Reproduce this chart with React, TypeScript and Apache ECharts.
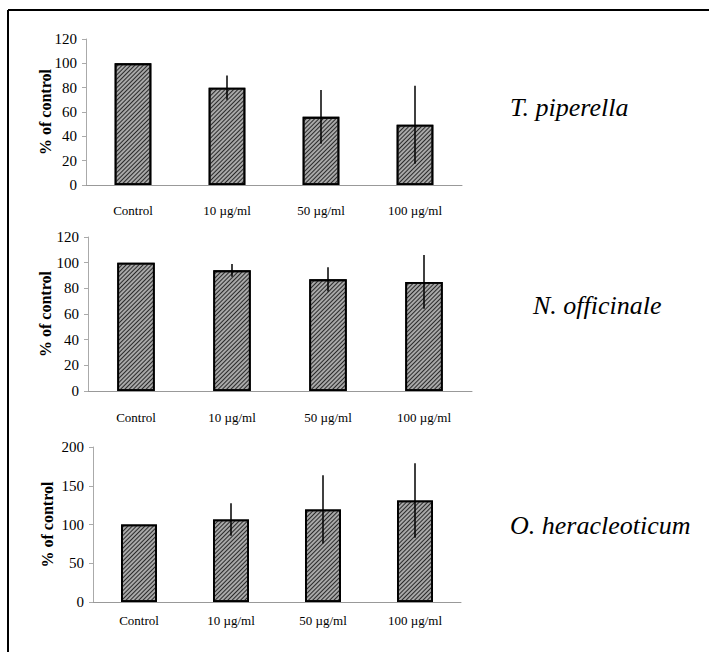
import React, { useEffect, useRef } from "react";
import * as echarts from "echarts";

const categories = ["Control", "10 µg/ml", "50 µg/ml", "100 µg/ml"];
const speciesNames = ["T. piperella", "N. officinale", "O. heracleoticum"];
const piperellaMeans = [100, 80, 56, 49.5];
const piperellaErr = [0, 10, 22, 32];
const officinaleMeans = [100, 94, 87, 85];
const officinaleErr = [0, 5, 9.5, 21];
const heracleoticumMeans = [100, 106.5, 119.5, 131];
const heracleoticumErr = [0, 21, 44, 48];
const yMaxes = [120, 120, 200];
const yIntervals = [20, 20, 50];

const FONT = "Liberation Serif, Times New Roman, DejaVu Serif, serif";

export default function App() {
  const ref = useRef<HTMLDivElement>(null);
  useEffect(() => {
    document.body.style.margin = "0";
    if (!ref.current) return;
    const chart = echarts.init(ref.current, undefined, { renderer: "svg" });
    const means = [piperellaMeans, officinaleMeans, heracleoticumMeans];
    const errs = [piperellaErr, officinaleErr, heracleoticumErr];
    const grids = [
      { left: 86, top: 39, width: 376, height: 146 },
      { left: 88, top: 237, width: 384, height: 154 },
      { left: 93, top: 447, width: 368, height: 155 },
    ];
    const xMargins = [19, 20, 12];
    const nameGaps = [33, 35, 38];
    const labelPos = [
      { x: 510, y: 107 },
      { x: 533, y: 305 },
      { x: 510, y: 525 },
    ];

    const series: any[] = [];
    means.forEach((m, i) => {
      series.push({
        type: "bar",
        xAxisIndex: i,
        yAxisIndex: i,
        data: m,
        barWidth: "39%",
        itemStyle: {
          color: "#a8a8a8",
          borderColor: "#000",
          borderWidth: 1.8,
          decal: {
            symbol: "rect",
            symbolSize: 1,
            dashArrayX: [1, 0],
            dashArrayY: [1, 1.2],
            rotation: -Math.PI / 4,
            color: "#2a2a2a",
          },
        },
      });
      series.push({
        type: "custom",
        xAxisIndex: i,
        yAxisIndex: i,
        data: m.map((v, j) => [j, v - errs[i][j], v + errs[i][j]]),
        renderItem: (params: any, api: any) => {
          const x = api.value(0);
          const lo = api.coord([x, api.value(1)]);
          const hi = api.coord([x, api.value(2)]);
          return {
            type: "line",
            shape: { x1: lo[0], y1: lo[1], x2: hi[0], y2: hi[1] },
            style: { stroke: "#000", lineWidth: 1.5 },
          };
        },
        z: 5,
      });
    });

    chart.setOption({
      animation: false,
      backgroundColor: "#fff",
      grid: grids,
      xAxis: grids.map((_, i) => ({
        type: "category",
        gridIndex: i,
        data: categories,
        axisLine: { lineStyle: { color: "#999", width: 1 } },
        axisTick: { length: 5, lineStyle: { color: "#999" } },
        axisLabel: {
          color: "#000",
          fontFamily: FONT,
          fontSize: 13,
          margin: xMargins[i],
        },
      })),
      yAxis: grids.map((_, i) => ({
        type: "value",
        gridIndex: i,
        min: 0,
        max: yMaxes[i],
        interval: yIntervals[i],
        splitLine: { show: false },
        axisLine: { show: true, lineStyle: { color: "#aaa", width: 1 } },
        axisTick: { show: true, length: 4, lineStyle: { color: "#aaa" } },
        axisLabel: {
          color: "#000",
          fontFamily: FONT,
          fontSize: 15,
          margin: 9,
        },
        name: "% of control",
        nameLocation: "middle",
        nameGap: nameGaps[i],
        nameMoveOverlap: false,
        nameTextStyle: {
          color: "#000",
          fontFamily: FONT,
          fontSize: 16,
          fontWeight: "bold",
        },
      })),
      series,
      graphic: [
        {
          type: "line",
          shape: { x1: 8, y1: 10, x2: 709, y2: 10 },
          style: { stroke: "#000", lineWidth: 2 },
        },
        {
          type: "line",
          shape: { x1: 8, y1: 10, x2: 8, y2: 652 },
          style: { stroke: "#000", lineWidth: 2 },
        },
        ...speciesNames.map((n, i) => ({
          type: "text",
          x: labelPos[i].x,
          y: labelPos[i].y,
          style: {
            text: n,
            font: "italic 26px " + FONT,
            fill: "#000",
            verticalAlign: "middle",
          },
        })),
      ],
    });
    return () => chart.dispose();
  }, []);
  return <div ref={ref} style={{ width: 709, height: 652 }} />;
}
